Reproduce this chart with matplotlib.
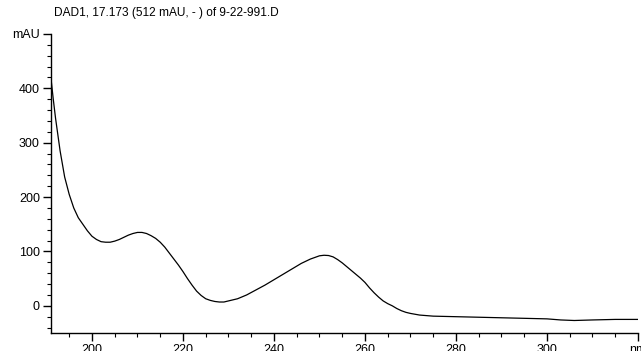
import matplotlib
matplotlib.use('Agg')
import matplotlib.pyplot as plt
from matplotlib.ticker import MultipleLocator

plt.rcParams['font.family'] = ['Liberation Sans', 'DejaVu Sans']

WAVELENGTH = [191.0, 191.5, 192, 193, 194, 195, 196, 197, 198, 199, 200, 201, 202, 203,
              204, 205, 206, 207, 208, 209, 210, 211, 212, 213, 214, 215, 216, 217, 218,
              219, 220, 221, 222, 223, 224, 225, 226, 227, 228, 229, 230, 232, 234, 236,
              238, 240, 242, 244, 246, 248, 250, 251, 252, 253, 254, 255, 256, 257, 258,
              259, 260, 261, 262, 263, 264, 265, 266, 267, 268, 269, 270, 272, 275, 280,
              285, 290, 295, 300, 303, 306, 310, 315, 320]
ABSORBANCE = [418, 380, 345, 285, 237, 205, 180, 162, 150, 138, 128, 122, 118, 117,
              117, 119, 122, 126, 130, 133, 135, 135, 133, 129, 124, 117, 108, 97, 86,
              75, 63, 50, 38, 27, 19, 13, 10, 8, 7, 7, 9, 13, 20, 29,
              38, 48, 58, 68, 78, 86, 92, 93, 92.5, 90, 85, 79, 72, 65, 58,
              51, 43, 33, 24, 16, 9, 4, 0, -5, -9, -12, -14, -17, -19, -20,
              -21, -22, -23, -24, -26, -27, -26, -25, -25]

X_TICKS = [200, 220, 240, 260, 280, 300, 320]
X_LABELS = ['200', '220', '240', '260', '280', '300', 'nm']
Y_TICKS = [0, 100, 200, 300, 400, 500]
Y_LABELS = ['0', '100', '200', '300', '400', 'mAU']

TITLE = 'DAD1, 17.173 (512 mAU, - ) of 9-22-991.D'

fig = plt.figure(figsize=(6.41, 3.51), dpi=100)
ax = fig.add_axes([51/641, 18/351, (638-51)/641, (333-34)/351])

ax.plot(WAVELENGTH, ABSORBANCE, color='black', linewidth=0.9)

ax.set_xlim(191, 320)
ax.set_ylim(-50, 500)

ax.set_xticks(X_TICKS)
ax.set_xticklabels(X_LABELS)
ax.set_yticks(Y_TICKS)
ax.set_yticklabels(Y_LABELS)
ax.xaxis.set_minor_locator(MultipleLocator(5))
ax.yaxis.set_minor_locator(MultipleLocator(20))

ax.spines['top'].set_visible(False)
ax.spines['right'].set_visible(False)
ax.spines['left'].set_linewidth(1.0)
ax.spines['bottom'].set_linewidth(1.0)

ax.tick_params(axis='both', which='major', length=6, width=1.0, labelsize=9, pad=2)
ax.tick_params(axis='both', which='minor', length=3, width=0.8)

fig.text(54/641, 1 - 13/351, TITLE, fontsize=8.6, va='center', ha='left')

plt.savefig('out.png', dpi=100)
